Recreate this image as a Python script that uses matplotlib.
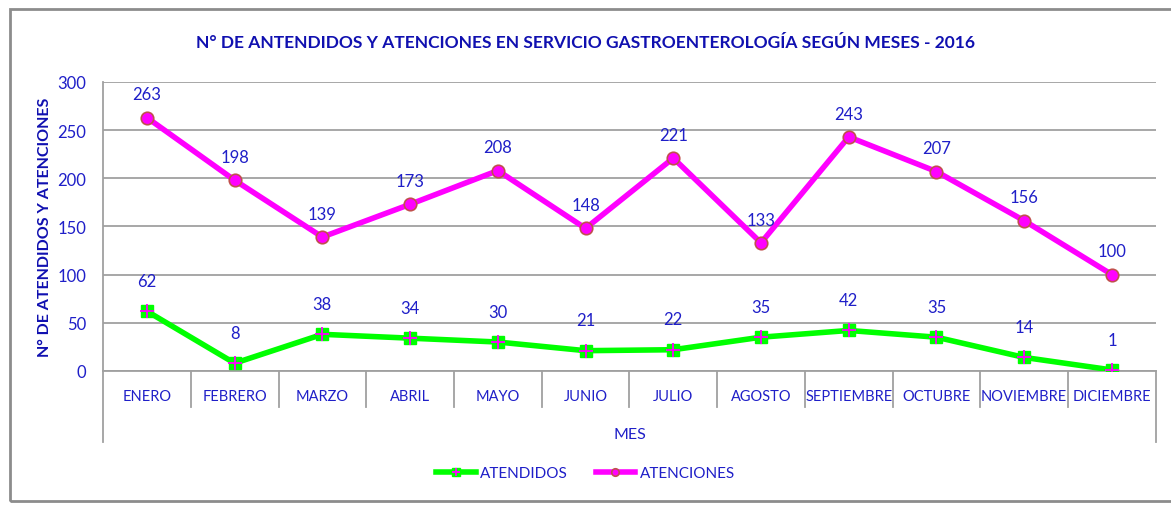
import matplotlib
matplotlib.use("Agg")
import matplotlib.pyplot as plt
from matplotlib.patches import Rectangle

# datos
meses = ["ENERO", "FEBRERO", "MARZO", "ABRIL", "MAYO", "JUNIO", "JULIO",
         "AGOSTO", "SEPTIEMBRE", "OCTUBRE", "NOVIEMBRE", "DICIEMBRE"]
atendidos = [62, 8, 38, 34, 30, 21, 22, 35, 42, 35, 14, 1]
atenciones = [263, 198, 139, 173, 208, 148, 221, 133, 243, 207, 156, 100]

azul = "#1F1FC8"
azul_titulo = "#1010B0"
gris = "#A0A0A0"

plt.rcParams['font.family'] = ['Lato', 'DejaVu Sans']

fig = plt.figure(figsize=(11.71, 5.06), dpi=100)
ax = fig.add_axes([0.088, 0.265, 0.899, 0.571])

x = list(range(len(meses)))

l1, = ax.plot(x, atendidos, color="#00FF00", lw=4, marker="s", ms=9,
              mfc="#00FF00", mec="#00FF00", zorder=3, label="ATENDIDOS")
l1p, = ax.plot(x, atendidos, ls="none", marker="+", ms=10, mew=1.3, color="#FF00FF", zorder=4)
l2, = ax.plot(x, atenciones, color="#FF00FF", lw=4, marker="o", ms=9,
              mfc="#FF00FF", mec="#C0504D", mew=1.2, zorder=3, label="ATENCIONES")

for xi, v in zip(x, atendidos):
    ax.annotate(str(v), (xi, v), xytext=(0, 16), textcoords="offset points",
                ha="center", va="bottom", color=azul, fontsize=12)
for xi, v in zip(x, atenciones):
    ax.annotate(str(v), (xi, v), xytext=(0, 11), textcoords="offset points",
                ha="center", va="bottom", color=azul, fontsize=12)

ax.set_xlim(-0.5, len(meses) - 0.5)
ax.set_ylim(0, 300)
ax.set_yticks(range(0, 301, 50))
ax.yaxis.grid(True, color=gris, lw=1.3)
ax.set_axisbelow(True)
ax.tick_params(axis="y", length=0, labelsize=12, labelcolor=azul, pad=12)
ax.set_xticks(x)
ax.set_xticklabels(meses)
ax.tick_params(axis="x", length=0, labelsize=10.5, labelcolor=azul, pad=13)
for s in ["top", "right"]:
    ax.spines[s].set_visible(False)
ax.spines["left"].set_color(gris)
ax.spines["left"].set_linewidth(1.3)
ax.spines["bottom"].set_color(gris)
ax.spines["bottom"].set_linewidth(1.3)

# divisiones de categorias bajo el eje
tr = ax.get_xaxis_transform()
for b in range(1, len(meses)):
    ax.plot([b - 0.5, b - 0.5], [0, -0.125], transform=tr, color=gris,
            lw=1.3, clip_on=False)
for b in [-0.5, len(meses) - 0.5]:
    ax.plot([b, b], [0, -0.245], transform=tr, color=gris, lw=1.3, clip_on=False)

ax.set_xlabel("MES", color=azul, fontsize=11.5, labelpad=17)
ax.set_ylabel("N° DE ATENDIDOS Y ATENCIONES", color=azul_titulo, fontsize=11.5,
              fontweight="bold", labelpad=4)

fig.text(0.5, 0.915, "N° DE ANTENDIDOS Y ATENCIONES EN SERVICIO GASTROENTEROLOGÍA SEGÚN MESES - 2016",
         ha="center", va="center", color=azul_titulo, fontsize=12.5, fontweight="bold")

leg = fig.legend(handles=[(l1, l1p), l2], labels=["ATENDIDOS", "ATENCIONES"],
                 loc="center", bbox_to_anchor=(0.5, 0.063), ncol=2,
                 frameon=False, fontsize=11, labelcolor=azul, handlelength=2.6,
                 columnspacing=1.8, handletextpad=0.3, markerscale=0.6)

# marco del grafico
fig.patches.append(Rectangle((10 / 1171, 4 / 506), 1.1, 492 / 506, transform=fig.transFigure,
                             fill=False, ec="#8C8C8C", lw=2))

fig.savefig("out.png", dpi=100)
